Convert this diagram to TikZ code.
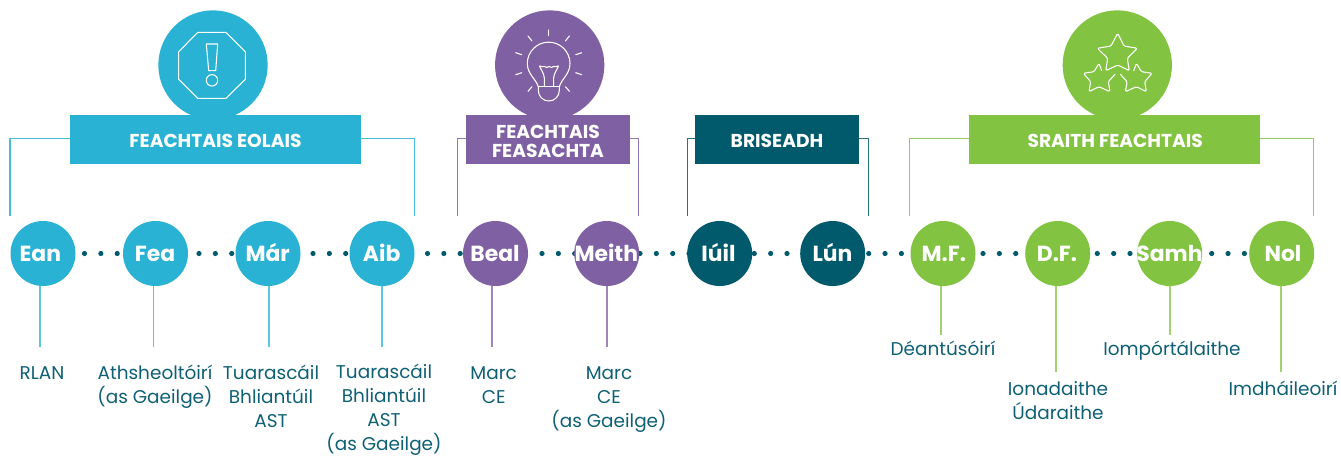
\documentclass[tikz,border=0pt]{standalone}
\usepackage{fontspec}
\setmainfont{Poppins}
\definecolor{cblue}{HTML}{29B2D3}
\definecolor{cpurple}{HTML}{7F60A2}
\definecolor{cteal}{HTML}{005A6C}
\definecolor{cgreen}{HTML}{82C341}
\definecolor{ctext}{HTML}{0F6075}
\newlength\pxd \setlength\pxd{1.5pt}
\newcommand\cT[2]{\makebox[0pt]{\hspace*{#1\pxd}#2}}
\newcommand\bT[1]{\raisebox{-5.9pt}[0pt][0pt]{#1}}
\tikzset{
  x=0.75pt,y=-0.75pt,
  month/.style={circle,fill=#1,minimum size=48.75pt,inner sep=0pt,text=white,
    font=\fontsize{16.4}{18}\selectfont\bfseries,text height=11.25pt,text depth=0pt},
  bigc/.style={circle,fill=#1,minimum size=82pt,inner sep=0pt},
  banner/.style={fill=#1,inner sep=0pt,minimum height=36.75pt,text=white,align=center,
    font=\fontsize{14}{13.75}\selectfont\bfseries},
  brack/.style={draw=#1,line width=1pt,draw opacity=0.85},
  stem/.style={draw=#1,line width=1.1pt,draw opacity=0.75},
  lab/.style={anchor=base,align=center,inner sep=0pt,text=ctext,
    font=\fontsize{13.85}{18}\selectfont},
  ico/.style={draw=white,line width=0.8pt,line join=round,line cap=round},
}
\begin{document}
\begin{tikzpicture}
\useasboundingbox[fill=white] (0,0) rectangle (1341,455);
% dots
\foreach \s in {84.5,199,313,427.5,542,640,754.3,868.7,983,1097.3,1211.7}{
  \foreach \k in {0,1,2}{\fill[cteal] ({\s+\k*16.35},253.5) circle[radius=2.6];}}
\fill[cteal] (689,253.5) circle[radius=2.6];
% month circles
\node[month=cblue] (ean) at (43,253.5) {\cT{-2.7}{Ean}};
\node[month=cblue] (fea) at (155.5,253.5) {\cT{-0.5}{Fea}};
\node[month=cblue] (mar) at (268,253.5) {\cT{-0.3}{Már}};
\node[month=cblue] (aib) at (382,253.5) {\cT{-0.3}{Aib}};
\node[month=cpurple] (beal) at (495.5,253.5) {\cT{-0.5}{Beal}};
\node[month=cpurple] (meith) at (606.7,253.5) {\cT{-0.4}{Meith}};
\node[month=cteal] (iuil) at (719.7,253.5) {\cT{-1.2}{Iúil}};
\node[month=cteal] (lun) at (832.7,253.5) {\cT{-0.2}{Lún}};
\node[month=cgreen] (mf) at (943,253.5) {\cT{0.8}{M.F.}};
\node[month=cgreen] (df) at (1057.7,253.5) {\cT{-0.7}{D.F.}};
\node[month=cgreen] (samh) at (1169.7,253.5) {\cT{-0.2}{Samh}};
\node[month=cgreen] (nol) at (1281.7,253.5) {\cT{1.3}{Nol}};
% big circles
\node[bigc=cblue] (bigE) at (213,65) {};
\node[bigc=cpurple] (bigF) at (549.7,65) {};
\node[bigc=cgreen] (bigS) at (1117.3,65) {};
% bracket ends
\coordinate (eolL) at (10,216); \coordinate (eolR) at (414.5,216);
\coordinate (feaL) at (457.5,216); \coordinate (feaR) at (638.7,216);
\coordinate (briL) at (687.7,216); \coordinate (briR) at (868.3,216);
\coordinate (srL) at (909.5,216); \coordinate (srR) at (1313.7,216);
% banners
\node[banner=cblue,minimum width=218.25pt] (eol) at (215.5,139.5) {\bT{FEACHTAIS EOLAIS}};
\node[banner=cpurple,minimum width=123pt] (feas) at (548,139.5) {\raisebox{-7.1pt}[0pt][0pt]{\begin{tabular}{@{}c@{}}FEACHTAIS\\FEASACHTA\end{tabular}}};
\node[banner=cteal,minimum width=123pt] (bri) at (777,139.5) {\bT{BRISEADH}};
\node[banner=cgreen,minimum width=218.25pt] (sr) at (1114.5,139.5) {\bT{\hspace*{1pt}SRAITH FEACHTAIS}};
% brackets
\draw[brack=cblue] ([yshift=0.75pt]eol.west) -| (eolL);
\draw[brack=cblue] ([yshift=0.75pt]eol.east) -| (eolR);
\draw[brack=cpurple] ([yshift=0.75pt]feas.west) -| (feaL);
\draw[brack=cpurple] ([yshift=0.75pt]feas.east) -| (feaR);
\draw[brack=cteal] ([yshift=0.75pt]bri.west) -| (briL);
\draw[brack=cteal] ([yshift=0.75pt]bri.east) -| (briR);
\draw[brack=cgreen] ([yshift=0.75pt]sr.west) -| (srL);
\draw[brack=cgreen] ([yshift=0.75pt]sr.east) -| (srR);
% stems ends
\coordinate (sEan) at (40,346.7); \coordinate (sFea) at (153.3,346.7);
\coordinate (sMar) at (269,346.7); \coordinate (sAib) at (382,346.7);
\coordinate (sBeal) at (492,346.7); \coordinate (sMeith) at (607,346.7);
\coordinate (sMf) at (941,335); \coordinate (sDf) at (1056,372.3);
\coordinate (sSamh) at (1170,335); \coordinate (sNol) at (1281,372.3);
\draw[stem=cblue] (ean.south -| sEan) -- (sEan);
\draw[stem=cblue] (fea.south -| sFea) -- (sFea);
\draw[stem=cblue] (mar.south -| sMar) -- (sMar);
\draw[stem=cblue] (aib.south -| sAib) -- (sAib);
\draw[stem=cpurple] (beal.south -| sBeal) -- (sBeal);
\draw[stem=cpurple] (meith.south -| sMeith) -- (sMeith);
\draw[stem=cgreen] (mf.south -| sMf) -- (sMf);
\draw[stem=cgreen] (df.south -| sDf) -- (sDf);
\draw[stem=cgreen] (samh.south -| sSamh) -- (sSamh);
\draw[stem=cgreen] (nol.south -| sNol) -- (sNol);
% labels
\node[lab] (t1) at (42,379) {RLAN};
\node[lab] (t2) at (155,403) {Athsheoltóirí\\(as Gaeilge)};
\node[lab] (t3) at (271,427) {Tuarascáil\\Bhliantúil\\AST};
\node[lab] (t4) at (384,450.5) {Tuarascáil\\Bhliantúil\\AST\\(as Gaeilge)};
\node[lab] (t5) at (493.7,403) {Marc\\CE};
\node[lab] (t6) at (609,427) {Marc\\CE\\(as Gaeilge)};
\node[lab] (t7) at (943,355.7) {Déantúsóirí};
\node[lab] (t8) at (1058,419) {Ionadaithe\\Údaraithe};
\node[lab] (t9) at (1172,355.7) {Iompórtálaithe};
\node[lab] (t10) at (1283,395) {Imdháileoirí};
% warning icon
\draw[ico] (197.7,32.3) -- (226,32.3) -- (245.3,51.7) -- (245.3,79.3) -- (226,98.3) -- (197.7,98.3) -- (178.7,79.3) -- (178.7,51.7) -- cycle;
\draw[ico] (206.3,44) -- (217.7,44) -- (215.7,70.7) -- (208.7,70.7) -- cycle;
\draw[ico] (212,80.3) circle[radius=5.7];
% bulb icon
\draw[ico] (538.3,86.7) .. controls (536,79) and (527.3,74) .. (527.3,63.5) arc[start angle=180,end angle=360,radius=21.35] .. controls (570,74) and (561.5,79) .. (559.3,86.7) -- (559.3,90.5) arc[start angle=0,end angle=180,radius=10.5] -- cycle;
\draw[ico] (538.3,86.7) -- (559.3,86.7);
\draw[ico] (544.3,86.7) -- (544.3,78) .. controls (544,73) and (541,70) .. (539.5,66) .. controls (542,67.5) and (543,66) .. (544.5,66.5) .. controls (546,67.5) and (547,68) .. (549,66.5) .. controls (551,68) and (552,67.5) .. (553.5,66.5) .. controls (555,66) and (556,67.5) .. (558.5,66) .. controls (557,70) and (554,73) .. (553.6,78) -- (553.6,86.7);
\foreach \a/\b/\c/\d in {548.7/30/548.7/35.7, 528/36/532/41, 569.4/36/565.4/41, 515.7/52.7/521.7/54.7, 581.7/52.7/575.7/54.7, 515.7/74.7/521.7/72.7, 581.7/74.7/575.7/72.7, 528/91.3/532/86.7, 569.4/91.3/565.4/86.7}{
  \draw[ico] (\a,\b) -- (\c,\d);}
% stars icon
\draw[ico,rounded corners=1pt] (1117.7,33.3) -- (1124,46) -- (1137.3,48.3) -- (1127.3,58.3) -- (1129.3,70.7) -- (1117.7,65) -- (1105.7,70.7) -- (1107.7,58.3) -- (1097.3,48.3) -- (1111,46) -- cycle;
\draw[ico,rounded corners=1pt] (1101.7,70.7) -- (1099,63.3) -- (1094,71.7) -- (1083.3,73.3) -- (1090.7,81.7) -- (1089,91.7) -- (1099,86.7) -- (1110,91.7) -- (1108.3,81.7) -- (1115,74.3);
\draw[ico,rounded corners=1pt] (1133.7,70.7) -- (1136.4,63.3) -- (1141.4,71.7) -- (1152.1,73.3) -- (1144.7,81.7) -- (1146.4,91.7) -- (1136.4,86.7) -- (1125.4,91.7) -- (1127.1,81.7) -- (1120.4,74.3);
\end{tikzpicture}
\end{document}
